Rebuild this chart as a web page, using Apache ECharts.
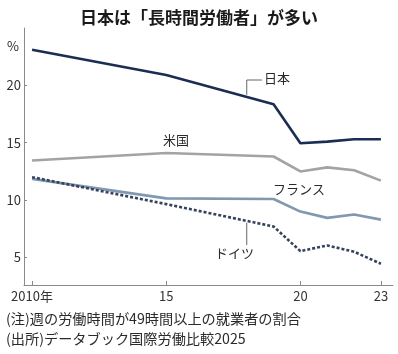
<!DOCTYPE html>
<html>
<head>
<meta charset="utf-8">
<script src="https://cdn.jsdelivr.net/npm/echarts@6/dist/echarts.min.js"></script>
<style>
  html, body { margin: 0; padding: 0; background: #fff; }
  #chart { width: 398px; height: 354px; }
</style>
</head>
<body>
<div id="chart"></div>
<script>
// 週49時間以上働く就業者の割合（%）
const years = [2010, 2015, 2019, 2020, 2021, 2022, 2023]
const japan = [23.1, 20.9, 18.35, 14.95, 15.1, 15.3, 15.3]
const usa = [13.45, 14.1, 13.8, 12.5, 12.85, 12.6, 11.7]
const france = [11.85, 10.15, 10.1, 9.0, 8.45, 8.75, 8.3]
const germany = [12.0, 9.65, 7.7, 5.55, 6.05, 5.5, 4.45]
const xTicks = [2010, 2015, 2020, 2023]
const yTicks = [5, 10, 15, 20]

const font = '"Noto Sans CJK JP", "Noto Sans", sans-serif'
const pairs = arr => years.map((y, i) => [y, arr[i]])

const chart = echarts.init(document.getElementById('chart'))

function lineSeries(name, data, color, dashed) {
  return {
    name: name,
    type: 'line',
    data: pairs(data),
    showSymbol: false,
    silent: true,
    z: dashed ? 3 : 2,
    lineStyle: {
      color: color,
      width: 2.6,
      type: dashed ? [3, 2] : 'solid'
    }
  }
}

chart.setOption({
  animation: false,
  backgroundColor: '#ffffff',
  title: {
    text: '日本は「長時間労働者」が多い',
    left: 'center',
    top: 4,
    textStyle: { fontFamily: font, fontWeight: 'bold', fontSize: 17, color: '#1a1a1a' }
  },
  grid: { left: 24, right: 5, top: 28, bottom: 69 },
  xAxis: {
    type: 'value',
    min: 2009.7,
    max: 2023.45,
    splitLine: { show: false },
    axisLine: { show: true, lineStyle: { color: '#8a8a8a', width: 1 } },
    axisTick: { show: true, inside: true, length: 4, customValues: xTicks, lineStyle: { color: '#8a8a8a' } },
    axisLabel: {
      customValues: xTicks,
      fontFamily: font,
      fontSize: 13,
      color: '#333',
      margin: 5,
      formatter: v => (v === 2010 ? '2010年' : String(v).slice(2))
    }
  },
  yAxis: {
    type: 'value',
    min: 2.6,
    max: 25,
    splitLine: { show: false },
    axisLine: { show: true, lineStyle: { color: '#8a8a8a', width: 1 } },
    axisTick: { show: true, inside: true, length: 3, customValues: yTicks, lineStyle: { color: '#8a8a8a' } },
    axisLabel: {
      customValues: yTicks,
      fontFamily: font,
      fontSize: 13,
      color: '#333',
      margin: 3
    }
  },
  series: [
    lineSeries('米国', usa, '#a3a3a3', false),
    lineSeries('フランス', france, '#8298b0', false),
    lineSeries('ドイツ', germany, '#34435c', true),
    lineSeries('日本', japan, '#1b2d52', false)
  ]
})

// ラベルと引き出し線
const jpAnchor = chart.convertToPixel({ gridIndex: 0 }, [2018, 19.0])
const deAnchor = chart.convertToPixel({ gridIndex: 0 }, [2018, 8.2])
const textStyle = (t, x, y, size) => ({
  type: 'text',
  left: x,
  top: y,
  silent: true,
  style: { text: t, font: size + 'px ' + font, fill: '#2a2a2a' }
})

chart.setOption({
  graphic: [
    textStyle('%', 7, 40, 13),
    textStyle('日本', 264, 72, 13),
    textStyle('米国', 163, 134, 13),
    textStyle('フランス', 273, 183, 13),
    textStyle('ドイツ', 215, 247, 13),
    {
      type: 'polyline',
      silent: true,
      shape: { points: [[jpAnchor[0], jpAnchor[1] - 2], [jpAnchor[0], 80], [262, 80]] },
      style: { stroke: '#666', lineWidth: 1, fill: null }
    },
    {
      type: 'polyline',
      silent: true,
      shape: { points: [[deAnchor[0], deAnchor[1] + 2], [deAnchor[0], 245]] },
      style: { stroke: '#666', lineWidth: 1, fill: null }
    },
    textStyle('(注)週の労働時間が49時間以上の就業者の割合', 6, 312, 14.2),
    textStyle('(出所)データブック国際労働比較2025', 6, 332, 14.2)
  ]
})
</script>
</body>
</html>
